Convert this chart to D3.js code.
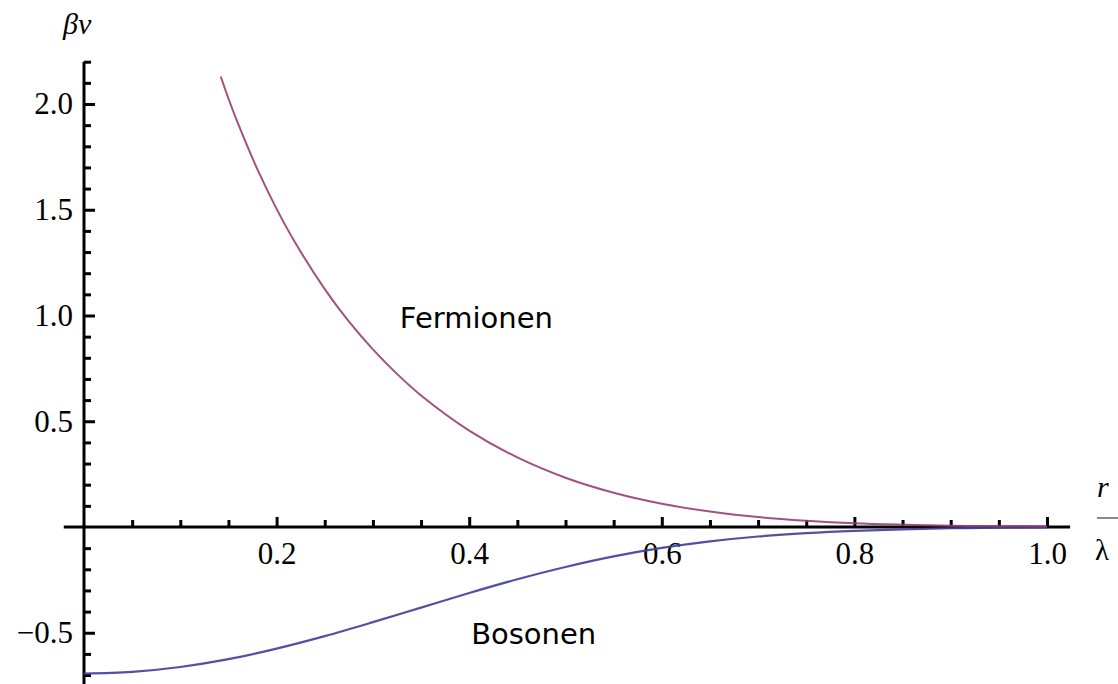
<!DOCTYPE html>
<html>
<head>
<meta charset="utf-8">
<script src="https://cdn.jsdelivr.net/npm/d3@7"></script>
<style>
  html, body { margin: 0; padding: 0; background: #fff; }
  svg { display: block; }
  .tick text { font-family: "Liberation Serif", "Times New Roman", serif; font-size: 31px; fill: #000; }
</style>
</head>
<body>
<svg id="chart" width="1118" height="684"></svg>
<script>
// r/λ sample positions and the potential βv for each statistics
const fermiX = [0.142, 0.15, 0.16, 0.18, 0.20, 0.22, 0.25, 0.275, 0.30, 0.325, 0.35, 0.40, 0.45, 0.50, 0.55, 0.60, 0.65, 0.70, 0.75, 0.80, 0.85, 0.90, 0.95, 1.00];
const fermiY = [2.13, 2.026, 1.907, 1.692, 1.504, 1.339, 1.125, 0.972, 0.840, 0.724, 0.622, 0.456, 0.329, 0.233, 0.162, 0.110, 0.073, 0.047, 0.030, 0.018, 0.011, 0.006, 0.004, 0.002];

const boseX = [0.00, 0.05, 0.10, 0.15, 0.20, 0.25, 0.30, 0.35, 0.40, 0.45, 0.50, 0.55, 0.60, 0.65, 0.70, 0.75, 0.80, 0.85, 0.90, 0.95, 1.00];
const boseY = [-0.693, -0.685, -0.662, -0.625, -0.575, -0.516, -0.450, -0.381, -0.312, -0.247, -0.189, -0.139, -0.099, -0.068, -0.045, -0.029, -0.018, -0.011, -0.006, -0.003, -0.002];

// axis ticks
const xMajor = [0.2, 0.4, 0.6, 0.8, 1.0];
const xMinor = [0.05, 0.1, 0.15, 0.25, 0.3, 0.35, 0.45, 0.5, 0.55, 0.65, 0.7, 0.75, 0.85, 0.9, 0.95];
const yMajor = [-0.5, 0.5, 1.0, 1.5, 2.0];
const yMinor = [-0.7, -0.6, -0.4, -0.3, -0.2, -0.1, 0.1, 0.2, 0.3, 0.4, 0.6, 0.7, 0.8, 0.9, 1.1, 1.2, 1.3, 1.4, 1.6, 1.7, 1.8, 1.9, 2.1, 2.2];

const curveLabels = [
  { text: "Fermionen", x: 0.328, y: 0.94 },
  { text: "Bosonen", x: 0.402, y: -0.555 }
];

const svg = d3.select("#chart");

const x = d3.scaleLinear().domain([0, 1]).range([84, 1047]);
const y = d3.scaleLinear().domain([0, 2]).range([527, 104]);

// axis lines
svg.append("line")
  .attr("x1", x(-0.021)).attr("x2", x(1.024))
  .attr("y1", y(0)).attr("y2", y(0))
  .attr("stroke", "#000").attr("stroke-width", 3);
svg.append("line")
  .attr("x1", x(0)).attr("x2", x(0))
  .attr("y1", y(2.2)).attr("y2", y(-0.75))
  .attr("stroke", "#000").attr("stroke-width", 3);

function styleAxis(g) {
  g.select(".domain").remove();
  g.selectAll(".tick line").attr("stroke", "#000").attr("stroke-width", 3);
}

// x axis: ticks point up, labels below
svg.append("g").attr("transform", `translate(0,${y(0)})`)
  .call(d3.axisBottom(x).tickValues(xMajor).tickSizeInner(-10).tickSizeOuter(0).tickPadding(15).tickFormat(d3.format(".1f")))
  .call(styleAxis);
svg.append("g").attr("transform", `translate(0,${y(0)})`)
  .call(d3.axisBottom(x).tickValues(xMinor).tickSizeInner(-7).tickSizeOuter(0).tickFormat(""))
  .call(styleAxis);

// y axis: ticks point right, labels left
svg.append("g").attr("transform", `translate(${x(0)},0)`)
  .call(d3.axisLeft(y).tickValues(yMajor).tickSizeInner(-11).tickSizeOuter(0).tickPadding(11)
    .tickFormat(d => d < 0 ? "\u2212" + d3.format(".1f")(-d) : d3.format(".1f")(d)))
  .call(styleAxis);
svg.append("g").attr("transform", `translate(${x(0)},0)`)
  .call(d3.axisLeft(y).tickValues(yMinor).tickSizeInner(-7).tickSizeOuter(0).tickFormat(""))
  .call(styleAxis);

// curves
const line = d3.line().x(d => x(d[0])).y(d => y(d[1])).curve(d3.curveCatmullRom.alpha(0.5));

svg.append("path")
  .datum(boseX.map((v, i) => [v, boseY[i]]))
  .attr("d", line)
  .attr("fill", "none").attr("stroke", "#3e3d99").attr("stroke-width", 2.2).attr("stroke-opacity", 0.9);

svg.append("path")
  .datum(fermiX.map((v, i) => [v, fermiY[i]]))
  .attr("d", line)
  .attr("fill", "none").attr("stroke", "#993d74").attr("stroke-width", 2).attr("stroke-opacity", 0.9);

// curve labels
svg.selectAll("text.curve-label").data(curveLabels).join("text")
  .attr("class", "curve-label")
  .attr("x", d => x(d.x)).attr("y", d => y(d.y))
  .attr("font-family", "'DejaVu Sans', sans-serif").attr("font-size", 29)
  .attr("fill", "#000")
  .text(d => d.text);

// axis titles
svg.append("text")
  .attr("x", 63).attr("y", 34)
  .attr("font-family", "'Liberation Serif', 'Times New Roman', serif")
  .attr("font-style", "italic").attr("font-size", 30)
  .text("βv");

svg.append("text")
  .attr("x", 1097).attr("y", 497)
  .attr("font-family", "'Liberation Serif', 'Times New Roman', serif")
  .attr("font-style", "italic").attr("font-size", 30)
  .text("r");
svg.append("line")
  .attr("x1", 1097).attr("x2", 1118).attr("y1", 518).attr("y2", 518)
  .attr("stroke", "#888").attr("stroke-width", 2);
svg.append("text")
  .attr("x", 1095).attr("y", 560)
  .attr("font-family", "'Liberation Serif', 'Times New Roman', serif")
  .attr("font-size", 29)
  .text("λ");
</script>
</body>
</html>
